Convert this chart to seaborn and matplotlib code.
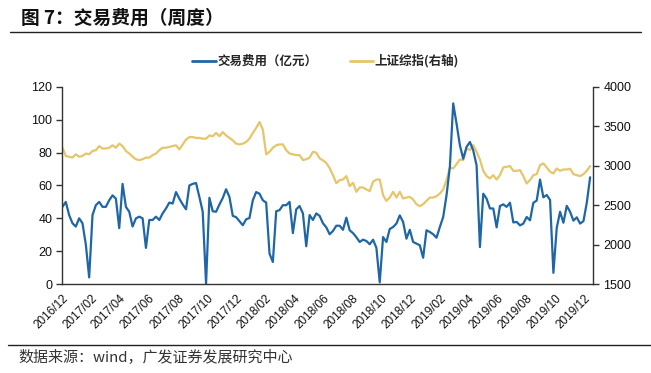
import pandas as pd
import seaborn as sns
import matplotlib.pyplot as plt
import matplotlib.dates as mdates
from matplotlib.lines import Line2D

# -------------------------------
# Data (weekly)
# -------------------------------
weeks = pd.date_range("2016-12-02", periods=159, freq="7D")

fee = [
    47, 50, 42, 37, 35, 40, 37, 24, 4, 42,
    48, 50, 47, 47, 51, 54, 52, 34, 61, 47,
    44, 35, 40, 41, 40, 22, 39, 39, 41, 39,
    43, 46, 49.6, 49, 56, 52, 48.5, 45.5, 60, 61,
    61.5, 53, 44, 0, 52.5, 44.3, 44, 48.4, 52.4, 57.7,
    53, 41.5, 40.7, 38.2, 35.8, 39.4, 40.2, 51, 56, 55,
    51, 49.6, 18.5, 13.4, 44.3, 45, 48, 48, 50, 31,
    45.5, 47.5, 43, 23, 42, 39, 43, 41.5, 37, 34.5,
    30.3, 32.3, 35.5, 35.5, 33, 40.4, 32.7, 31, 28.5, 25.6,
    27, 26.2, 24.2, 27, 22, 1, 28.6, 25.6, 33.5, 34.7,
    36.8, 41.8, 37.8, 27.6, 33, 25.6, 24.6, 23.6, 16, 32.7,
    31.7, 30.3, 28.2, 34.7, 40.8, 54, 71.3, 110, 97.7, 84.5,
    76.3, 83.5, 86.5, 81.4, 72.3, 22.5, 55, 52, 46, 46,
    34.5, 47.5, 48.5, 47, 49.5, 37.5, 37.8, 35.7, 36.8, 40.8,
    38.8, 49.5, 50.8, 63.6, 52.8, 54.2, 51.2, 6.8, 34.2, 44,
    37.3, 47.6, 44, 38.6, 40.6, 36.8, 38.3, 49.5, 65,
]

sse = [
    3229, 3125, 3115, 3104, 3146, 3115, 3125, 3156, 3146, 3188,
    3198, 3250, 3219, 3219, 3229, 3260, 3229, 3281, 3250, 3188,
    3156, 3115, 3083, 3073, 3083, 3104, 3104, 3135, 3156, 3198,
    3229, 3229, 3240, 3250, 3260, 3208, 3271, 3333, 3365, 3365,
    3354, 3354, 3344, 3344, 3385, 3375, 3417, 3375, 3427, 3385,
    3354, 3323, 3281, 3271, 3281, 3302, 3344, 3417, 3480, 3556,
    3458, 3146, 3177, 3229, 3260, 3271, 3271, 3198, 3156, 3146,
    3135, 3135, 3073, 3083, 3104, 3177, 3167, 3095, 3068, 3036,
    2970, 2881, 2780, 2818, 2826, 2869, 2742, 2784, 2670, 2725,
    2725, 2700, 2678, 2797, 2826, 2826, 2627, 2555, 2597, 2670,
    2597, 2670, 2585, 2597, 2606, 2572, 2513, 2487, 2513, 2555,
    2597, 2597, 2614, 2648, 2699, 2818, 2979, 2966, 3021, 3080,
    3072, 3220, 3199, 3263, 3178, 3080, 2936, 2869, 2839, 2881,
    2826, 2881, 2979, 2987, 2996, 2936, 2936, 2945, 2869, 2775,
    2818, 2881, 2894, 3008, 3030, 2979, 2924, 2903, 2966, 2936,
    2953, 2953, 2962, 2894, 2881, 2869, 2894, 2936, 2996,
]

df = pd.DataFrame({"date": weeks, "fee": fee, "sse": sse})

left_ticks = [0, 20, 40, 60, 80, 100, 120]
right_ticks = [1500, 2000, 2500, 3000, 3500, 4000]
x_ticks = pd.date_range("2016-12-01", "2019-12-01", freq="2MS")

blue = "#1F66A6"
gold = "#E6C66A"

# -------------------------------
# Plot
# -------------------------------
sns.set_style("white")
plt.rcParams["font.family"] = ["Liberation Sans", "Noto Sans CJK SC"]

fig = plt.figure(figsize=(6.51, 3.73), dpi=100)
ax = fig.add_axes([0.0952, 0.2386, 0.8157, 0.5282])
ax2 = ax.twinx()

sns.lineplot(data=df, x="date", y="fee", ax=ax, color=blue, linewidth=1.6)
sns.lineplot(data=df, x="date", y="sse", ax=ax2, color=gold, linewidth=1.6)
ax.set_zorder(ax2.get_zorder() + 1)
ax.patch.set_visible(False)

ax.set_ylim(0, 120)
ax.set_yticks(left_ticks)
ax2.set_ylim(1500, 4000)
ax2.set_yticks(right_ticks)
ax.set_xlim(pd.Timestamp("2016-12-01"), pd.Timestamp("2019-12-19"))
ax.set_xticks(x_ticks)
ax.xaxis.set_major_formatter(mdates.DateFormatter("%Y/%m"))

for a in (ax, ax2):
    a.set_xlabel("")
    a.set_ylabel("")
    a.spines["top"].set_visible(False)
    for s in ("left", "right", "bottom"):
        a.spines[s].set_color("#333333")
        a.spines[s].set_linewidth(1.0)
    a.tick_params(axis="both", direction="out", length=4, width=1,
                  color="#333333", labelsize=9, labelcolor="#111111")
ax.spines["right"].set_visible(False)
ax2.spines["left"].set_visible(False)
ax2.spines["bottom"].set_visible(False)
ax.tick_params(axis="y", pad=3)
ax.tick_params(axis="x", labelsize=8.5, pad=2)
plt.setp(ax.get_xticklabels(), rotation=45, ha="right", rotation_mode="anchor")

handles = [Line2D([], [], color=blue, linewidth=2),
           Line2D([], [], color=gold, linewidth=2)]
fig.legend(handles, ["交易费用（亿元）", "上证综指(右轴)"],
           loc="center", bbox_to_anchor=(0.5, 0.836), ncol=2, frameon=False,
           handlelength=1.9, handletextpad=0.1, columnspacing=2.6,
           prop={"family": ["Noto Sans CJK SC"], "weight": "bold", "size": 9})

# title, rules and source
fig.text(0.032, 0.952, "图 7：交易费用（周度）", fontsize=13.5, fontweight="bold",
         family=["Noto Sans CJK SC"], color="#111111", va="center")
fig.add_artist(Line2D([0.015, 0.985], [0.914, 0.914], color="#222222", linewidth=1.0))
fig.add_artist(Line2D([0.012, 1.0], [0.075, 0.075], color="#222222", linewidth=1.0))
fig.text(0.028, 0.043, "数据来源：wind，广发证券发展研究中心", fontsize=10.8,
         family=["Noto Sans CJK SC"], color="#333333", va="center")

fig.savefig("out.png", dpi=100)
